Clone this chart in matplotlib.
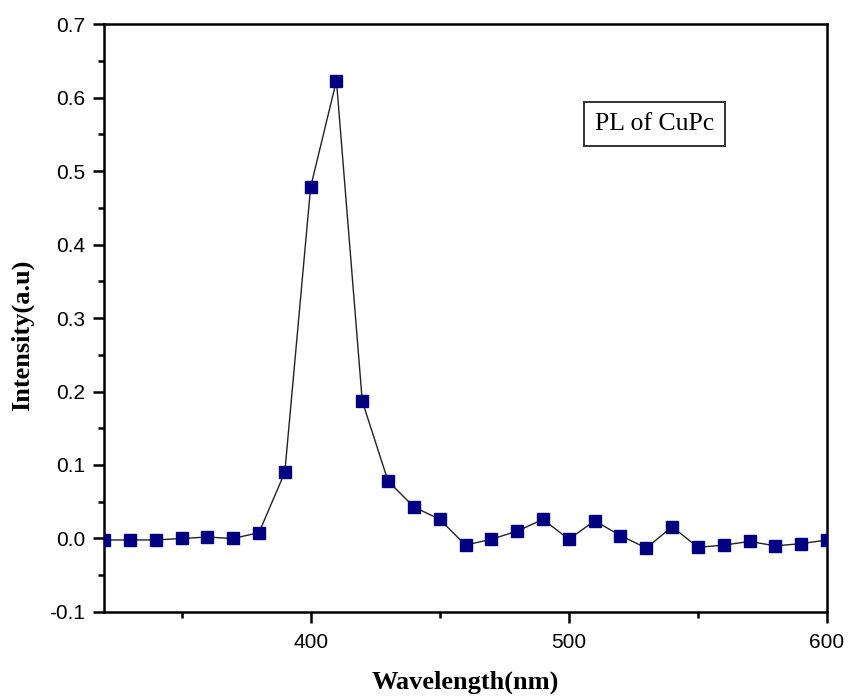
import matplotlib
matplotlib.use("Agg")
import matplotlib.pyplot as plt
from matplotlib.ticker import MultipleLocator

wavelength = [320, 330, 340, 350, 360, 370, 380, 390, 400, 410, 420, 430, 440, 450,
              460, 470, 480, 490, 500, 510, 520, 530, 540, 550, 560, 570, 580, 590, 600]
intensity = [-0.002, -0.002, -0.002, 0.000, 0.002, 0.000, 0.008, 0.090, 0.478, 0.623,
             0.187, 0.078, 0.043, 0.026, -0.009, -0.001, 0.010, 0.026, -0.001, 0.024,
             0.004, -0.013, 0.016, -0.012, -0.009, -0.004, -0.010, -0.007, -0.002]

fig = plt.figure(figsize=(8.5, 6.96), dpi=100)
ax = fig.add_axes([0.1224, 0.1207, 0.8506, 0.8448])

ax.plot(wavelength, intensity, color="#222222", linewidth=1.0, marker="s",
        markersize=8.5, markerfacecolor="#000080", markeredgecolor="#000080", zorder=3)

ax.set_xlim(320, 600)
ax.set_ylim(-0.1, 0.7)
ax.xaxis.set_major_locator(MultipleLocator(100))
ax.xaxis.set_minor_locator(MultipleLocator(50))
ax.yaxis.set_major_locator(MultipleLocator(0.1))
ax.yaxis.set_minor_locator(MultipleLocator(0.05))
ax.yaxis.set_major_formatter(matplotlib.ticker.FormatStrFormatter("%.1f"))

for s in ax.spines.values():
    s.set_linewidth(1.8)
ax.tick_params(which="major", direction="out", length=8, width=1.8, labelsize=15)
ax.tick_params(axis="x", which="major", pad=7)
ax.tick_params(axis="y", which="major", pad=5.5)
ax.tick_params(which="minor", direction="out", length=4, width=1.8)
for lab in ax.get_xticklabels() + ax.get_yticklabels():
    lab.set_fontfamily("Liberation Sans")

ax.set_xlabel("Wavelength(nm)", fontfamily="Liberation Serif", fontweight="bold",
              fontsize=19, va="center")
ax.set_ylabel("Intensity(a.u)", fontfamily="Liberation Serif", fontweight="bold",
              fontsize=19, va="center")
ax.xaxis.set_label_coords(0.5, -0.119)
ax.yaxis.set_label_coords(-0.113, 0.471)

ax.text(0.761, 0.830, "PL of CuPc", transform=ax.transAxes, ha="center", va="center",
        fontfamily="Liberation Serif", fontsize=18.5,
        bbox=dict(boxstyle="square,pad=0.42", facecolor="white", edgecolor="#333333",
                  linewidth=1.4))

fig.savefig("out.png", dpi=100)
